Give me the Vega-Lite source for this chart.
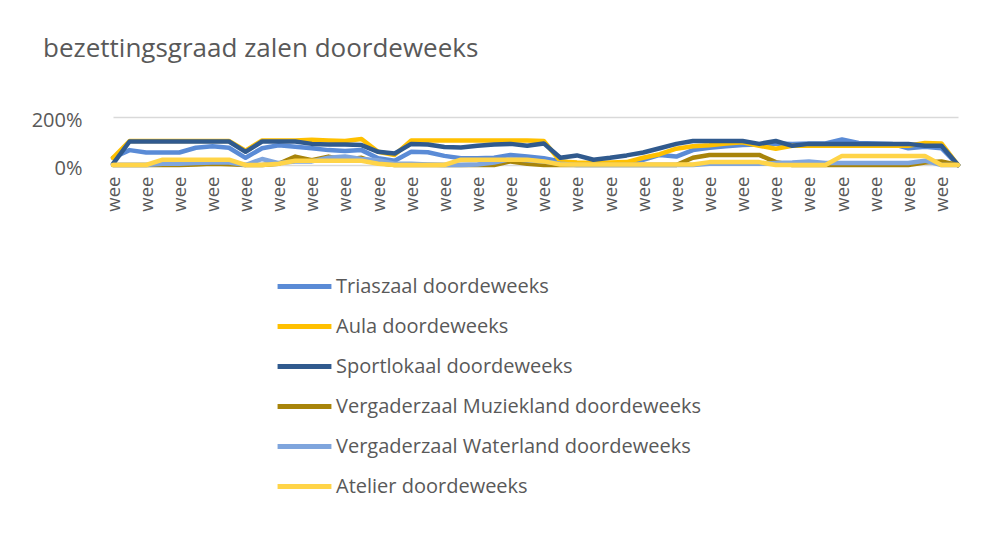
{
  "$schema": "https://vega.github.io/schema/vega-lite/v6.json",
  "autosize": "none",
  "width": 845,
  "height": 48,
  "padding": {"left": 113, "top": 117, "right": 29, "bottom": 386},
  "background": "white",
  "title": {"text": "bezettingsgraad zalen doordeweeks", "anchor": "start", "frame": "group", "dx": -70, "offset": 48, "fontSize": 26, "font": "Open Sans", "fontWeight": "normal", "color": "#595959"},
  "data": {"values": [
{"week":"week 1","ruimte":"Triaszaal doordeweeks","bezetting":0.30},{"week":"week 2","ruimte":"Triaszaal doordeweeks","bezetting":0.62},{"week":"week 3","ruimte":"Triaszaal doordeweeks","bezetting":0.52},{"week":"week 4","ruimte":"Triaszaal doordeweeks","bezetting":0.52},{"week":"week 5","ruimte":"Triaszaal doordeweeks","bezetting":0.52},{"week":"week 6","ruimte":"Triaszaal doordeweeks","bezetting":0.72},{"week":"week 7","ruimte":"Triaszaal doordeweeks","bezetting":0.78},{"week":"week 8","ruimte":"Triaszaal doordeweeks","bezetting":0.72},{"week":"week 9","ruimte":"Triaszaal doordeweeks","bezetting":0.30},{"week":"week 10","ruimte":"Triaszaal doordeweeks","bezetting":0.70},{"week":"week 11","ruimte":"Triaszaal doordeweeks","bezetting":0.82},{"week":"week 12","ruimte":"Triaszaal doordeweeks","bezetting":0.76},{"week":"week 13","ruimte":"Triaszaal doordeweeks","bezetting":0.70},{"week":"week 14","ruimte":"Triaszaal doordeweeks","bezetting":0.62},{"week":"week 15","ruimte":"Triaszaal doordeweeks","bezetting":0.58},{"week":"week 16","ruimte":"Triaszaal doordeweeks","bezetting":0.62},{"week":"week 17","ruimte":"Triaszaal doordeweeks","bezetting":0.28},{"week":"week 18","ruimte":"Triaszaal doordeweeks","bezetting":0.18},{"week":"week 19","ruimte":"Triaszaal doordeweeks","bezetting":0.55},{"week":"week 20","ruimte":"Triaszaal doordeweeks","bezetting":0.53},{"week":"week 21","ruimte":"Triaszaal doordeweeks","bezetting":0.38},{"week":"week 22","ruimte":"Triaszaal doordeweeks","bezetting":0.28},{"week":"week 23","ruimte":"Triaszaal doordeweeks","bezetting":0.28},{"week":"week 24","ruimte":"Triaszaal doordeweeks","bezetting":0.30},{"week":"week 25","ruimte":"Triaszaal doordeweeks","bezetting":0.42},{"week":"week 26","ruimte":"Triaszaal doordeweeks","bezetting":0.35},{"week":"week 27","ruimte":"Triaszaal doordeweeks","bezetting":0.28},{"week":"week 28","ruimte":"Triaszaal doordeweeks","bezetting":0.15},{"week":"week 29","ruimte":"Triaszaal doordeweeks","bezetting":0.08},{"week":"week 30","ruimte":"Triaszaal doordeweeks","bezetting":0.05},{"week":"week 31","ruimte":"Triaszaal doordeweeks","bezetting":0.05},{"week":"week 32","ruimte":"Triaszaal doordeweeks","bezetting":0.10},{"week":"week 33","ruimte":"Triaszaal doordeweeks","bezetting":0.22},{"week":"week 34","ruimte":"Triaszaal doordeweeks","bezetting":0.42},{"week":"week 35","ruimte":"Triaszaal doordeweeks","bezetting":0.35},{"week":"week 36","ruimte":"Triaszaal doordeweeks","bezetting":0.62},{"week":"week 37","ruimte":"Triaszaal doordeweeks","bezetting":0.72},{"week":"week 38","ruimte":"Triaszaal doordeweeks","bezetting":0.78},{"week":"week 39","ruimte":"Triaszaal doordeweeks","bezetting":0.83},{"week":"week 40","ruimte":"Triaszaal doordeweeks","bezetting":0.85},{"week":"week 41","ruimte":"Triaszaal doordeweeks","bezetting":0.90},{"week":"week 42","ruimte":"Triaszaal doordeweeks","bezetting":0.88},{"week":"week 43","ruimte":"Triaszaal doordeweeks","bezetting":0.90},{"week":"week 44","ruimte":"Triaszaal doordeweeks","bezetting":0.90},{"week":"week 45","ruimte":"Triaszaal doordeweeks","bezetting":1.06},{"week":"week 46","ruimte":"Triaszaal doordeweeks","bezetting":0.92},{"week":"week 47","ruimte":"Triaszaal doordeweeks","bezetting":0.90},{"week":"week 48","ruimte":"Triaszaal doordeweeks","bezetting":0.88},{"week":"week 49","ruimte":"Triaszaal doordeweeks","bezetting":0.70},{"week":"week 50","ruimte":"Triaszaal doordeweeks","bezetting":0.76},{"week":"week 51","ruimte":"Triaszaal doordeweeks","bezetting":0.70},{"week":"week 52","ruimte":"Triaszaal doordeweeks","bezetting":0.0},
{"week":"week 1","ruimte":"Aula doordeweeks","bezetting":0.30},{"week":"week 2","ruimte":"Aula doordeweeks","bezetting":1.00},{"week":"week 3","ruimte":"Aula doordeweeks","bezetting":1.00},{"week":"week 4","ruimte":"Aula doordeweeks","bezetting":1.00},{"week":"week 5","ruimte":"Aula doordeweeks","bezetting":1.00},{"week":"week 6","ruimte":"Aula doordeweeks","bezetting":1.00},{"week":"week 7","ruimte":"Aula doordeweeks","bezetting":1.00},{"week":"week 8","ruimte":"Aula doordeweeks","bezetting":1.00},{"week":"week 9","ruimte":"Aula doordeweeks","bezetting":0.60},{"week":"week 10","ruimte":"Aula doordeweeks","bezetting":1.02},{"week":"week 11","ruimte":"Aula doordeweeks","bezetting":1.02},{"week":"week 12","ruimte":"Aula doordeweeks","bezetting":1.02},{"week":"week 13","ruimte":"Aula doordeweeks","bezetting":1.05},{"week":"week 14","ruimte":"Aula doordeweeks","bezetting":1.02},{"week":"week 15","ruimte":"Aula doordeweeks","bezetting":1.00},{"week":"week 16","ruimte":"Aula doordeweeks","bezetting":1.08},{"week":"week 17","ruimte":"Aula doordeweeks","bezetting":0.55},{"week":"week 18","ruimte":"Aula doordeweeks","bezetting":0.42},{"week":"week 19","ruimte":"Aula doordeweeks","bezetting":1.02},{"week":"week 20","ruimte":"Aula doordeweeks","bezetting":1.02},{"week":"week 21","ruimte":"Aula doordeweeks","bezetting":1.02},{"week":"week 22","ruimte":"Aula doordeweeks","bezetting":1.02},{"week":"week 23","ruimte":"Aula doordeweeks","bezetting":1.02},{"week":"week 24","ruimte":"Aula doordeweeks","bezetting":1.02},{"week":"week 25","ruimte":"Aula doordeweeks","bezetting":1.02},{"week":"week 26","ruimte":"Aula doordeweeks","bezetting":1.02},{"week":"week 27","ruimte":"Aula doordeweeks","bezetting":1.00},{"week":"week 28","ruimte":"Aula doordeweeks","bezetting":0.15},{"week":"week 29","ruimte":"Aula doordeweeks","bezetting":0.10},{"week":"week 30","ruimte":"Aula doordeweeks","bezetting":0.08},{"week":"week 31","ruimte":"Aula doordeweeks","bezetting":0.10},{"week":"week 32","ruimte":"Aula doordeweeks","bezetting":0.12},{"week":"week 33","ruimte":"Aula doordeweeks","bezetting":0.30},{"week":"week 34","ruimte":"Aula doordeweeks","bezetting":0.45},{"week":"week 35","ruimte":"Aula doordeweeks","bezetting":0.68},{"week":"week 36","ruimte":"Aula doordeweeks","bezetting":0.78},{"week":"week 37","ruimte":"Aula doordeweeks","bezetting":0.82},{"week":"week 38","ruimte":"Aula doordeweeks","bezetting":0.90},{"week":"week 39","ruimte":"Aula doordeweeks","bezetting":0.95},{"week":"week 40","ruimte":"Aula doordeweeks","bezetting":0.80},{"week":"week 41","ruimte":"Aula doordeweeks","bezetting":0.68},{"week":"week 42","ruimte":"Aula doordeweeks","bezetting":0.80},{"week":"week 43","ruimte":"Aula doordeweeks","bezetting":0.80},{"week":"week 44","ruimte":"Aula doordeweeks","bezetting":0.80},{"week":"week 45","ruimte":"Aula doordeweeks","bezetting":0.80},{"week":"week 46","ruimte":"Aula doordeweeks","bezetting":0.80},{"week":"week 47","ruimte":"Aula doordeweeks","bezetting":0.80},{"week":"week 48","ruimte":"Aula doordeweeks","bezetting":0.80},{"week":"week 49","ruimte":"Aula doordeweeks","bezetting":0.80},{"week":"week 50","ruimte":"Aula doordeweeks","bezetting":0.92},{"week":"week 51","ruimte":"Aula doordeweeks","bezetting":0.90},{"week":"week 52","ruimte":"Aula doordeweeks","bezetting":0.0},
{"week":"week 1","ruimte":"Sportlokaal doordeweeks","bezetting":0.05},{"week":"week 2","ruimte":"Sportlokaal doordeweeks","bezetting":0.98},{"week":"week 3","ruimte":"Sportlokaal doordeweeks","bezetting":0.98},{"week":"week 4","ruimte":"Sportlokaal doordeweeks","bezetting":0.98},{"week":"week 5","ruimte":"Sportlokaal doordeweeks","bezetting":0.98},{"week":"week 6","ruimte":"Sportlokaal doordeweeks","bezetting":0.98},{"week":"week 7","ruimte":"Sportlokaal doordeweeks","bezetting":0.98},{"week":"week 8","ruimte":"Sportlokaal doordeweeks","bezetting":0.98},{"week":"week 9","ruimte":"Sportlokaal doordeweeks","bezetting":0.55},{"week":"week 10","ruimte":"Sportlokaal doordeweeks","bezetting":0.98},{"week":"week 11","ruimte":"Sportlokaal doordeweeks","bezetting":0.98},{"week":"week 12","ruimte":"Sportlokaal doordeweeks","bezetting":0.98},{"week":"week 13","ruimte":"Sportlokaal doordeweeks","bezetting":0.88},{"week":"week 14","ruimte":"Sportlokaal doordeweeks","bezetting":0.85},{"week":"week 15","ruimte":"Sportlokaal doordeweeks","bezetting":0.85},{"week":"week 16","ruimte":"Sportlokaal doordeweeks","bezetting":0.83},{"week":"week 17","ruimte":"Sportlokaal doordeweeks","bezetting":0.55},{"week":"week 18","ruimte":"Sportlokaal doordeweeks","bezetting":0.48},{"week":"week 19","ruimte":"Sportlokaal doordeweeks","bezetting":0.88},{"week":"week 20","ruimte":"Sportlokaal doordeweeks","bezetting":0.85},{"week":"week 21","ruimte":"Sportlokaal doordeweeks","bezetting":0.75},{"week":"week 22","ruimte":"Sportlokaal doordeweeks","bezetting":0.73},{"week":"week 23","ruimte":"Sportlokaal doordeweeks","bezetting":0.80},{"week":"week 24","ruimte":"Sportlokaal doordeweeks","bezetting":0.85},{"week":"week 25","ruimte":"Sportlokaal doordeweeks","bezetting":0.88},{"week":"week 26","ruimte":"Sportlokaal doordeweeks","bezetting":0.80},{"week":"week 27","ruimte":"Sportlokaal doordeweeks","bezetting":0.90},{"week":"week 28","ruimte":"Sportlokaal doordeweeks","bezetting":0.30},{"week":"week 29","ruimte":"Sportlokaal doordeweeks","bezetting":0.40},{"week":"week 30","ruimte":"Sportlokaal doordeweeks","bezetting":0.22},{"week":"week 31","ruimte":"Sportlokaal doordeweeks","bezetting":0.30},{"week":"week 32","ruimte":"Sportlokaal doordeweeks","bezetting":0.40},{"week":"week 33","ruimte":"Sportlokaal doordeweeks","bezetting":0.52},{"week":"week 34","ruimte":"Sportlokaal doordeweeks","bezetting":0.70},{"week":"week 35","ruimte":"Sportlokaal doordeweeks","bezetting":0.88},{"week":"week 36","ruimte":"Sportlokaal doordeweeks","bezetting":1.00},{"week":"week 37","ruimte":"Sportlokaal doordeweeks","bezetting":1.00},{"week":"week 38","ruimte":"Sportlokaal doordeweeks","bezetting":1.00},{"week":"week 39","ruimte":"Sportlokaal doordeweeks","bezetting":1.00},{"week":"week 40","ruimte":"Sportlokaal doordeweeks","bezetting":0.88},{"week":"week 41","ruimte":"Sportlokaal doordeweeks","bezetting":1.00},{"week":"week 42","ruimte":"Sportlokaal doordeweeks","bezetting":0.80},{"week":"week 43","ruimte":"Sportlokaal doordeweeks","bezetting":0.88},{"week":"week 44","ruimte":"Sportlokaal doordeweeks","bezetting":0.88},{"week":"week 45","ruimte":"Sportlokaal doordeweeks","bezetting":0.88},{"week":"week 46","ruimte":"Sportlokaal doordeweeks","bezetting":0.88},{"week":"week 47","ruimte":"Sportlokaal doordeweeks","bezetting":0.88},{"week":"week 48","ruimte":"Sportlokaal doordeweeks","bezetting":0.88},{"week":"week 49","ruimte":"Sportlokaal doordeweeks","bezetting":0.88},{"week":"week 50","ruimte":"Sportlokaal doordeweeks","bezetting":0.80},{"week":"week 51","ruimte":"Sportlokaal doordeweeks","bezetting":0.80},{"week":"week 52","ruimte":"Sportlokaal doordeweeks","bezetting":0.0},
{"week":"week 1","ruimte":"Vergaderzaal Muziekland doordeweeks","bezetting":0.0},{"week":"week 2","ruimte":"Vergaderzaal Muziekland doordeweeks","bezetting":0.0},{"week":"week 3","ruimte":"Vergaderzaal Muziekland doordeweeks","bezetting":0.0},{"week":"week 4","ruimte":"Vergaderzaal Muziekland doordeweeks","bezetting":0.0},{"week":"week 5","ruimte":"Vergaderzaal Muziekland doordeweeks","bezetting":0.0},{"week":"week 6","ruimte":"Vergaderzaal Muziekland doordeweeks","bezetting":0.02},{"week":"week 7","ruimte":"Vergaderzaal Muziekland doordeweeks","bezetting":0.05},{"week":"week 8","ruimte":"Vergaderzaal Muziekland doordeweeks","bezetting":0.03},{"week":"week 9","ruimte":"Vergaderzaal Muziekland doordeweeks","bezetting":0.0},{"week":"week 10","ruimte":"Vergaderzaal Muziekland doordeweeks","bezetting":0.0},{"week":"week 11","ruimte":"Vergaderzaal Muziekland doordeweeks","bezetting":0.05},{"week":"week 12","ruimte":"Vergaderzaal Muziekland doordeweeks","bezetting":0.35},{"week":"week 13","ruimte":"Vergaderzaal Muziekland doordeweeks","bezetting":0.20},{"week":"week 14","ruimte":"Vergaderzaal Muziekland doordeweeks","bezetting":0.35},{"week":"week 15","ruimte":"Vergaderzaal Muziekland doordeweeks","bezetting":0.22},{"week":"week 16","ruimte":"Vergaderzaal Muziekland doordeweeks","bezetting":0.30},{"week":"week 17","ruimte":"Vergaderzaal Muziekland doordeweeks","bezetting":0.08},{"week":"week 18","ruimte":"Vergaderzaal Muziekland doordeweeks","bezetting":0.0},{"week":"week 19","ruimte":"Vergaderzaal Muziekland doordeweeks","bezetting":0.0},{"week":"week 20","ruimte":"Vergaderzaal Muziekland doordeweeks","bezetting":0.0},{"week":"week 21","ruimte":"Vergaderzaal Muziekland doordeweeks","bezetting":0.0},{"week":"week 22","ruimte":"Vergaderzaal Muziekland doordeweeks","bezetting":0.0},{"week":"week 23","ruimte":"Vergaderzaal Muziekland doordeweeks","bezetting":0.0},{"week":"week 24","ruimte":"Vergaderzaal Muziekland doordeweeks","bezetting":0.0},{"week":"week 25","ruimte":"Vergaderzaal Muziekland doordeweeks","bezetting":0.15},{"week":"week 26","ruimte":"Vergaderzaal Muziekland doordeweeks","bezetting":0.05},{"week":"week 27","ruimte":"Vergaderzaal Muziekland doordeweeks","bezetting":0.0},{"week":"week 28","ruimte":"Vergaderzaal Muziekland doordeweeks","bezetting":0.0},{"week":"week 29","ruimte":"Vergaderzaal Muziekland doordeweeks","bezetting":0.0},{"week":"week 30","ruimte":"Vergaderzaal Muziekland doordeweeks","bezetting":0.0},{"week":"week 31","ruimte":"Vergaderzaal Muziekland doordeweeks","bezetting":0.0},{"week":"week 32","ruimte":"Vergaderzaal Muziekland doordeweeks","bezetting":0.0},{"week":"week 33","ruimte":"Vergaderzaal Muziekland doordeweeks","bezetting":0.0},{"week":"week 34","ruimte":"Vergaderzaal Muziekland doordeweeks","bezetting":0.0},{"week":"week 35","ruimte":"Vergaderzaal Muziekland doordeweeks","bezetting":0.0},{"week":"week 36","ruimte":"Vergaderzaal Muziekland doordeweeks","bezetting":0.30},{"week":"week 37","ruimte":"Vergaderzaal Muziekland doordeweeks","bezetting":0.42},{"week":"week 38","ruimte":"Vergaderzaal Muziekland doordeweeks","bezetting":0.42},{"week":"week 39","ruimte":"Vergaderzaal Muziekland doordeweeks","bezetting":0.42},{"week":"week 40","ruimte":"Vergaderzaal Muziekland doordeweeks","bezetting":0.42},{"week":"week 41","ruimte":"Vergaderzaal Muziekland doordeweeks","bezetting":0.12},{"week":"week 42","ruimte":"Vergaderzaal Muziekland doordeweeks","bezetting":0.0},{"week":"week 43","ruimte":"Vergaderzaal Muziekland doordeweeks","bezetting":0.0},{"week":"week 44","ruimte":"Vergaderzaal Muziekland doordeweeks","bezetting":0.0},{"week":"week 45","ruimte":"Vergaderzaal Muziekland doordeweeks","bezetting":0.0},{"week":"week 46","ruimte":"Vergaderzaal Muziekland doordeweeks","bezetting":0.0},{"week":"week 47","ruimte":"Vergaderzaal Muziekland doordeweeks","bezetting":0.0},{"week":"week 48","ruimte":"Vergaderzaal Muziekland doordeweeks","bezetting":0.0},{"week":"week 49","ruimte":"Vergaderzaal Muziekland doordeweeks","bezetting":0.0},{"week":"week 50","ruimte":"Vergaderzaal Muziekland doordeweeks","bezetting":0.10},{"week":"week 51","ruimte":"Vergaderzaal Muziekland doordeweeks","bezetting":0.15},{"week":"week 52","ruimte":"Vergaderzaal Muziekland doordeweeks","bezetting":0.0},
{"week":"week 1","ruimte":"Vergaderzaal Waterland doordeweeks","bezetting":0.0},{"week":"week 2","ruimte":"Vergaderzaal Waterland doordeweeks","bezetting":0.0},{"week":"week 3","ruimte":"Vergaderzaal Waterland doordeweeks","bezetting":0.0},{"week":"week 4","ruimte":"Vergaderzaal Waterland doordeweeks","bezetting":0.05},{"week":"week 5","ruimte":"Vergaderzaal Waterland doordeweeks","bezetting":0.05},{"week":"week 6","ruimte":"Vergaderzaal Waterland doordeweeks","bezetting":0.08},{"week":"week 7","ruimte":"Vergaderzaal Waterland doordeweeks","bezetting":0.10},{"week":"week 8","ruimte":"Vergaderzaal Waterland doordeweeks","bezetting":0.10},{"week":"week 9","ruimte":"Vergaderzaal Waterland doordeweeks","bezetting":0.0},{"week":"week 10","ruimte":"Vergaderzaal Waterland doordeweeks","bezetting":0.25},{"week":"week 11","ruimte":"Vergaderzaal Waterland doordeweeks","bezetting":0.08},{"week":"week 12","ruimte":"Vergaderzaal Waterland doordeweeks","bezetting":0.15},{"week":"week 13","ruimte":"Vergaderzaal Waterland doordeweeks","bezetting":0.15},{"week":"week 14","ruimte":"Vergaderzaal Waterland doordeweeks","bezetting":0.30},{"week":"week 15","ruimte":"Vergaderzaal Waterland doordeweeks","bezetting":0.35},{"week":"week 16","ruimte":"Vergaderzaal Waterland doordeweeks","bezetting":0.25},{"week":"week 17","ruimte":"Vergaderzaal Waterland doordeweeks","bezetting":0.20},{"week":"week 18","ruimte":"Vergaderzaal Waterland doordeweeks","bezetting":0.05},{"week":"week 19","ruimte":"Vergaderzaal Waterland doordeweeks","bezetting":0.05},{"week":"week 20","ruimte":"Vergaderzaal Waterland doordeweeks","bezetting":0.02},{"week":"week 21","ruimte":"Vergaderzaal Waterland doordeweeks","bezetting":0.0},{"week":"week 22","ruimte":"Vergaderzaal Waterland doordeweeks","bezetting":0.0},{"week":"week 23","ruimte":"Vergaderzaal Waterland doordeweeks","bezetting":0.02},{"week":"week 24","ruimte":"Vergaderzaal Waterland doordeweeks","bezetting":0.10},{"week":"week 25","ruimte":"Vergaderzaal Waterland doordeweeks","bezetting":0.25},{"week":"week 26","ruimte":"Vergaderzaal Waterland doordeweeks","bezetting":0.20},{"week":"week 27","ruimte":"Vergaderzaal Waterland doordeweeks","bezetting":0.15},{"week":"week 28","ruimte":"Vergaderzaal Waterland doordeweeks","bezetting":0.05},{"week":"week 29","ruimte":"Vergaderzaal Waterland doordeweeks","bezetting":0.0},{"week":"week 30","ruimte":"Vergaderzaal Waterland doordeweeks","bezetting":0.0},{"week":"week 31","ruimte":"Vergaderzaal Waterland doordeweeks","bezetting":0.0},{"week":"week 32","ruimte":"Vergaderzaal Waterland doordeweeks","bezetting":0.0},{"week":"week 33","ruimte":"Vergaderzaal Waterland doordeweeks","bezetting":0.0},{"week":"week 34","ruimte":"Vergaderzaal Waterland doordeweeks","bezetting":0.0},{"week":"week 35","ruimte":"Vergaderzaal Waterland doordeweeks","bezetting":0.0},{"week":"week 36","ruimte":"Vergaderzaal Waterland doordeweeks","bezetting":0.0},{"week":"week 37","ruimte":"Vergaderzaal Waterland doordeweeks","bezetting":0.05},{"week":"week 38","ruimte":"Vergaderzaal Waterland doordeweeks","bezetting":0.05},{"week":"week 39","ruimte":"Vergaderzaal Waterland doordeweeks","bezetting":0.05},{"week":"week 40","ruimte":"Vergaderzaal Waterland doordeweeks","bezetting":0.05},{"week":"week 41","ruimte":"Vergaderzaal Waterland doordeweeks","bezetting":0.08},{"week":"week 42","ruimte":"Vergaderzaal Waterland doordeweeks","bezetting":0.10},{"week":"week 43","ruimte":"Vergaderzaal Waterland doordeweeks","bezetting":0.15},{"week":"week 44","ruimte":"Vergaderzaal Waterland doordeweeks","bezetting":0.08},{"week":"week 45","ruimte":"Vergaderzaal Waterland doordeweeks","bezetting":0.08},{"week":"week 46","ruimte":"Vergaderzaal Waterland doordeweeks","bezetting":0.08},{"week":"week 47","ruimte":"Vergaderzaal Waterland doordeweeks","bezetting":0.08},{"week":"week 48","ruimte":"Vergaderzaal Waterland doordeweeks","bezetting":0.08},{"week":"week 49","ruimte":"Vergaderzaal Waterland doordeweeks","bezetting":0.08},{"week":"week 50","ruimte":"Vergaderzaal Waterland doordeweeks","bezetting":0.18},{"week":"week 51","ruimte":"Vergaderzaal Waterland doordeweeks","bezetting":0.0},{"week":"week 52","ruimte":"Vergaderzaal Waterland doordeweeks","bezetting":0.0},
{"week":"week 1","ruimte":"Atelier doordeweeks","bezetting":0.0},{"week":"week 2","ruimte":"Atelier doordeweeks","bezetting":0.0},{"week":"week 3","ruimte":"Atelier doordeweeks","bezetting":0.0},{"week":"week 4","ruimte":"Atelier doordeweeks","bezetting":0.22},{"week":"week 5","ruimte":"Atelier doordeweeks","bezetting":0.22},{"week":"week 6","ruimte":"Atelier doordeweeks","bezetting":0.22},{"week":"week 7","ruimte":"Atelier doordeweeks","bezetting":0.22},{"week":"week 8","ruimte":"Atelier doordeweeks","bezetting":0.22},{"week":"week 9","ruimte":"Atelier doordeweeks","bezetting":0.0},{"week":"week 10","ruimte":"Atelier doordeweeks","bezetting":0.0},{"week":"week 11","ruimte":"Atelier doordeweeks","bezetting":0.05},{"week":"week 12","ruimte":"Atelier doordeweeks","bezetting":0.18},{"week":"week 13","ruimte":"Atelier doordeweeks","bezetting":0.18},{"week":"week 14","ruimte":"Atelier doordeweeks","bezetting":0.18},{"week":"week 15","ruimte":"Atelier doordeweeks","bezetting":0.18},{"week":"week 16","ruimte":"Atelier doordeweeks","bezetting":0.18},{"week":"week 17","ruimte":"Atelier doordeweeks","bezetting":0.05},{"week":"week 18","ruimte":"Atelier doordeweeks","bezetting":0.0},{"week":"week 19","ruimte":"Atelier doordeweeks","bezetting":0.0},{"week":"week 20","ruimte":"Atelier doordeweeks","bezetting":0.0},{"week":"week 21","ruimte":"Atelier doordeweeks","bezetting":0.0},{"week":"week 22","ruimte":"Atelier doordeweeks","bezetting":0.22},{"week":"week 23","ruimte":"Atelier doordeweeks","bezetting":0.22},{"week":"week 24","ruimte":"Atelier doordeweeks","bezetting":0.22},{"week":"week 25","ruimte":"Atelier doordeweeks","bezetting":0.22},{"week":"week 26","ruimte":"Atelier doordeweeks","bezetting":0.22},{"week":"week 27","ruimte":"Atelier doordeweeks","bezetting":0.15},{"week":"week 28","ruimte":"Atelier doordeweeks","bezetting":0.02},{"week":"week 29","ruimte":"Atelier doordeweeks","bezetting":0.02},{"week":"week 30","ruimte":"Atelier doordeweeks","bezetting":0.02},{"week":"week 31","ruimte":"Atelier doordeweeks","bezetting":0.02},{"week":"week 32","ruimte":"Atelier doordeweeks","bezetting":0.02},{"week":"week 33","ruimte":"Atelier doordeweeks","bezetting":0.02},{"week":"week 34","ruimte":"Atelier doordeweeks","bezetting":0.02},{"week":"week 35","ruimte":"Atelier doordeweeks","bezetting":0.02},{"week":"week 36","ruimte":"Atelier doordeweeks","bezetting":0.02},{"week":"week 37","ruimte":"Atelier doordeweeks","bezetting":0.12},{"week":"week 38","ruimte":"Atelier doordeweeks","bezetting":0.12},{"week":"week 39","ruimte":"Atelier doordeweeks","bezetting":0.12},{"week":"week 40","ruimte":"Atelier doordeweeks","bezetting":0.12},{"week":"week 41","ruimte":"Atelier doordeweeks","bezetting":0.0},{"week":"week 42","ruimte":"Atelier doordeweeks","bezetting":0.0},{"week":"week 43","ruimte":"Atelier doordeweeks","bezetting":0.0},{"week":"week 44","ruimte":"Atelier doordeweeks","bezetting":0.0},{"week":"week 45","ruimte":"Atelier doordeweeks","bezetting":0.38},{"week":"week 46","ruimte":"Atelier doordeweeks","bezetting":0.38},{"week":"week 47","ruimte":"Atelier doordeweeks","bezetting":0.38},{"week":"week 48","ruimte":"Atelier doordeweeks","bezetting":0.38},{"week":"week 49","ruimte":"Atelier doordeweeks","bezetting":0.38},{"week":"week 50","ruimte":"Atelier doordeweeks","bezetting":0.38},{"week":"week 51","ruimte":"Atelier doordeweeks","bezetting":0.0},{"week":"week 52","ruimte":"Atelier doordeweeks","bezetting":0.0}
  ]},
  "mark": {"type": "line", "strokeWidth": 4.5, "strokeCap": "round", "strokeJoin": "round"},
  "encoding": {
    "x": {"field": "week", "type": "ordinal", "sort": null, "scale": {"type": "point", "padding": 0},
      "axis": {"title": null, "labelAngle": -90, "labelExpr": "indexof(domain('x'), datum.value) % 2 == 0 ? substring(datum.label, 0, 3) : ''", "labelFontSize": 18.5, "labelFont": "Open Sans", "labelColor": "#595959", "labelPadding": 11, "labelOverlap": false, "labelFlush": false, "labelBound": false, "ticks": false, "domainColor": "#D9D9D9", "domainWidth": 1}},
    "y": {"field": "bezetting", "type": "quantitative", "scale": {"domain": [0, 2], "nice": false},
      "axis": {"title": null, "values": [0, 2], "format": ".0%", "labelFontSize": 20, "labelFont": "Open Sans", "labelColor": "#595959", "labelPadding": 31, "ticks": false, "domain": false, "gridColor": "#D9D9D9", "gridWidth": 1.5, "labelBaseline": "middle", "labelOffset": 3}},
    "color": {"field": "ruimte", "type": "nominal",
      "scale": {"domain": ["Triaszaal doordeweeks", "Aula doordeweeks", "Sportlokaal doordeweeks", "Vergaderzaal Muziekland doordeweeks", "Vergaderzaal Waterland doordeweeks", "Atelier doordeweeks"],
        "range": ["#5A8BD6", "#FFC000", "#305A8E", "#A8840A", "#7FA5DD", "#FFD448"]},
      "legend": {"title": null, "orient": "none", "legendX": 162, "legendY": 140, "direction": "vertical", "symbolType": "stroke", "symbolSize": 2900, "symbolStrokeWidth": 5, "labelFontSize": 20, "labelFont": "Open Sans", "labelColor": "#595959", "labelOffset": 2, "rowPadding": -10, "labelLimit": 600}}
  },
  "config": {"view": {"stroke": null}}
}
